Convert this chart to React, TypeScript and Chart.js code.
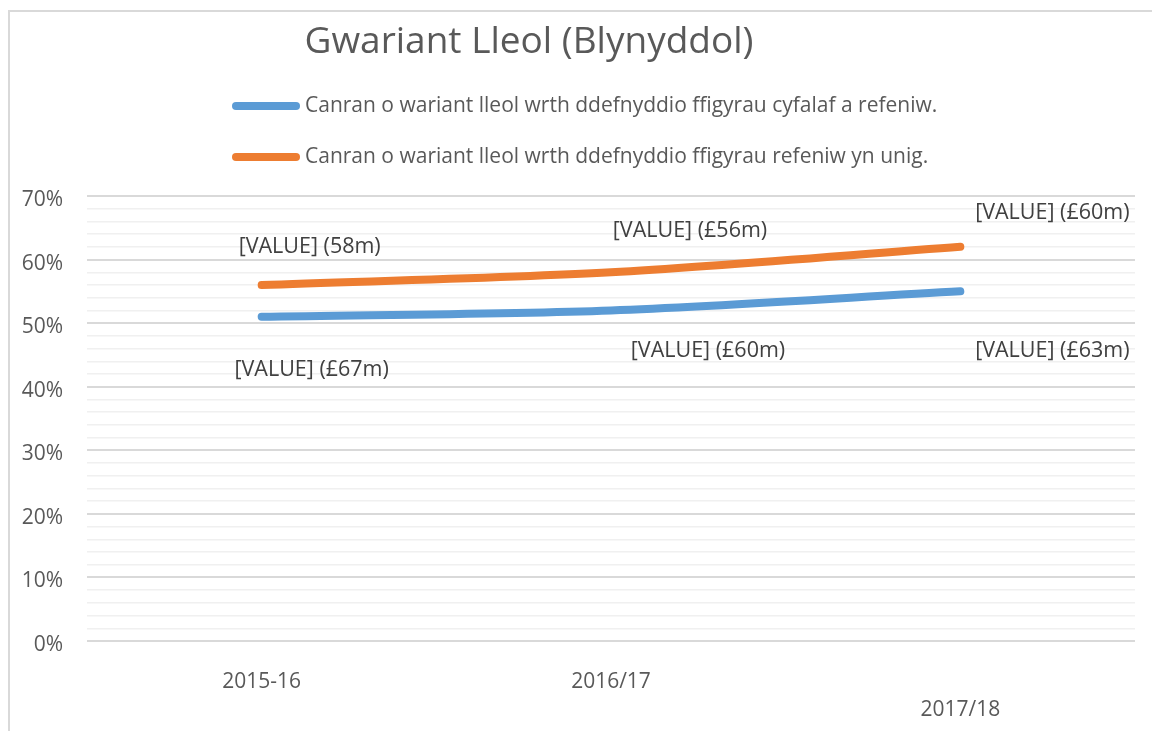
import React, { useEffect, useRef } from 'react';
import { Chart, registerables } from 'chart.js';

Chart.register(...registerables);

const chartTitle = 'Gwariant Lleol (Blynyddol)';
const categories = ['2015-16', '2016/17', '2017/18'];
const seriesNames = [
  'Canran o wariant lleol wrth ddefnyddio ffigyrau cyfalaf a refeniw.',
  'Canran o wariant lleol wrth ddefnyddio ffigyrau refeniw yn unig.',
];
const capitalRevenuePct = [51, 52, 55];
const revenueOnlyPct = [56, 58, 62];
const capitalRevenueLabels = ['[VALUE] (£67m)', '[VALUE] (£60m)', '[VALUE] (£63m)'];
const revenueOnlyLabels = ['[VALUE] (58m)', '[VALUE] (£56m)', '[VALUE] (£60m)'];
const yMin = 0;
const yMax = 70;
const yMinorStep = 2;
const yMajorStep = 10;

const FONT = '"Open Sans", Lato, sans-serif';
const TEXT = '#595959';
const BLUE = '#5B9BD5';
const ORANGE = '#ED7D31';

const labelOffsets = [
  [ { dx: 50, dy: 53 }, { dx: 97, dy: 40 }, { dx: 92, dy: 60 } ],
  [ { dx: 48, dy: -38 }, { dx: 79, dy: -41 }, { dx: 92, dy: -34 } ],
];

const decorPlugin = {
  id: 'decor',
  afterDatasetsDraw(chart: any) {
    const ctx = chart.ctx;
    ctx.save();
    ctx.font = `21.5px ${FONT}`;
    ctx.fillStyle = '#404040';
    ctx.textAlign = 'center';
    ctx.textBaseline = 'middle';
    const labelSets = [capitalRevenueLabels, revenueOnlyLabels];
    labelSets.forEach((labels, i) => {
      const meta = chart.getDatasetMeta(i);
      labels.forEach((txt, j) => {
        const pt = meta.data[j];
        if (!pt) return;
        const o = labelOffsets[i][j];
        ctx.fillText(txt, pt.x + o.dx, pt.y + o.dy);
      });
    });
    ctx.restore();
  },
  afterDraw(chart: any) {
    const ctx = chart.ctx;
    ctx.save();
    ctx.font = `37px ${FONT}`;
    ctx.fillStyle = TEXT;
    ctx.textAlign = 'center';
    ctx.textBaseline = 'middle';
    ctx.fillText(chartTitle, 519, 30);
    const colors = [BLUE, ORANGE];
    const rows = [94, 145];
    seriesNames.forEach((name, i) => {
      ctx.strokeStyle = colors[i];
      ctx.lineWidth = 8;
      ctx.lineCap = 'round';
      ctx.beginPath();
      ctx.moveTo(226, rows[i]);
      ctx.lineTo(286, rows[i]);
      ctx.stroke();
      ctx.font = `21px ${FONT}`;
      ctx.fillStyle = TEXT;
      ctx.textAlign = 'left';
      ctx.fillText(name, 295, rows[i]);
    });
    ctx.restore();
  },
};

export default function App() {
  const ref = useRef<HTMLCanvasElement>(null);
  useEffect(() => {
    if (!ref.current) return;
    const chart = new Chart(ref.current, {
      type: 'line',
      data: {
        labels: categories,
        datasets: [
          {
            label: seriesNames[0],
            data: capitalRevenuePct,
            borderColor: BLUE,
            backgroundColor: BLUE,
            borderWidth: 8,
            borderCapStyle: 'round',
            pointRadius: 0,
            tension: 0.3,
          },
          {
            label: seriesNames[1],
            data: revenueOnlyPct,
            borderColor: ORANGE,
            backgroundColor: ORANGE,
            borderWidth: 8,
            borderCapStyle: 'round',
            pointRadius: 0,
            tension: 0.3,
          },
        ],
      },
      options: {
        animation: false,
        responsive: true,
        maintainAspectRatio: false,
        layout: { padding: { top: 184, right: 17, left: 0, bottom: 0 } },
        plugins: {
          legend: { display: false },
          title: { display: false },
          tooltip: { enabled: false },
        },
        scales: {
          x: {
            offset: true,
            grid: { display: false, drawTicks: false },
            border: { display: false },
            ticks: {
              color: TEXT,
              font: { family: FONT, size: 21, lineHeight: 1.33 },
              padding: 27,
              maxRotation: 0,
              autoSkip: false,
              callback: (_v: any, i: number) => (i === 2 ? ['', categories[i]] : categories[i]),
            },
            afterFit: (s: any) => { s.height = 90; },
          },
          y: {
            min: yMin,
            max: yMax,
            grid: {
              drawTicks: false,
              color: (c: any) => (c.tick && c.tick.value % yMajorStep === 0 ? '#d9d9d9' : '#f0f0f0'),
              lineWidth: (c: any) => (c.tick && c.tick.value % yMajorStep === 0 ? 2 : 1.5),
            },
            border: { display: false },
            ticks: {
              stepSize: yMinorStep,
              autoSkip: false,
              color: TEXT,
              padding: 24,
              labelOffset: 4,
              font: { family: FONT, size: 21 },
              callback: (v: any) => (Number(v) % yMajorStep === 0 ? `${v}%` : ''),
            },
            afterFit: (s: any) => { s.width = 77; },
          },
        },
      },
      plugins: [decorPlugin],
    } as any);
    return () => chart.destroy();
  }, []);
  return (
    <div
      style={{
        position: 'absolute',
        left: 8,
        top: 10,
        width: 1142,
        height: 719,
        borderLeft: '2px solid #d9d9d9',
        borderTop: '2px solid #d9d9d9',
        background: '#fff',
      }}
    >
      <canvas ref={ref} />
    </div>
  );
}
